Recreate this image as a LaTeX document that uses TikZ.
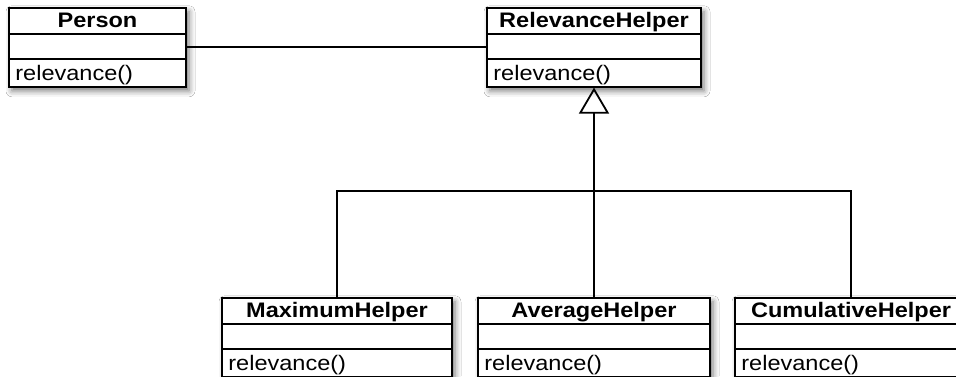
\documentclass[tikz,border=0pt]{standalone}
\usepackage{fontspec}
\setmainfont{Liberation Sans}
\usetikzlibrary{arrows.meta,shadows.blur}

% compartment heights of a class box: 27pt title, 25pt attributes, 27pt operations
\newcommand\umlclass[5]{% name, centre x, top y, width, class name
  \node[clsbox, minimum width=#4pt, anchor=north] (#1) at (#2,#3) {};
  \draw[divider] ([yshift=-27pt]#1.north west) -- ([yshift=-27pt]#1.north east);
  \draw[divider] ([yshift=-52pt]#1.north west) -- ([yshift=-52pt]#1.north east);
  \node[clstitle, anchor=base] (#1-title) at ([yshift=-20.5pt]#1.north) {\scalebox{1.12}[1]{#5}};
  \node[clsop, anchor=base west] (#1-op) at ([yshift=-73pt, xshift=7pt]#1.north west) {\scalebox{1.12}[1]{relevance()}};
}

\tikzset{
  clsbox/.style={draw=black, line width=1.6pt, fill=white, rectangle,
    minimum height=79pt, inner sep=0pt,
    blur shadow={shadow xshift=3pt, shadow yshift=-4pt,
      shadow blur radius=6pt, shadow opacity=55}},
  divider/.style={line width=1.3pt},
  clstitle/.style={font=\fontsize{21}{25}\selectfont\bfseries, inner sep=0pt},
  clsop/.style={font=\fontsize{21}{25}\selectfont, inner sep=0pt, anchor=base west},
  link/.style={line width=1.8pt},
  inherit/.style={line width=1.8pt, -{Triangle[open, length=26pt, width=30pt]}},
}

\begin{document}
\begin{tikzpicture}[x=1pt, y=-1pt]
  \path[use as bounding box, clip] (0,0) rectangle (956,376);
  \fill[white] (0,0) rectangle (956,376);

  \umlclass{person}{97.5}{7}{177}{Person}
  \umlclass{rel}{594}{7}{214}{RelevanceHelper}
  \umlclass{maxh}{337}{297}{230}{MaximumHelper}
  \umlclass{avgh}{594}{297}{232}{AverageHelper}
  \umlclass{cumh}{851}{297}{232}{CumulativeHelper}

  % association
  \draw[link] (person.east) -- (rel.west);

  % generalisation tree
  \coordinate (bus) at (594,191);
  \draw[link] (maxh.north) |- (bus) -| (cumh.north);
  \draw[inherit] (avgh.north) -- (rel.south);
\end{tikzpicture}
\end{document}
